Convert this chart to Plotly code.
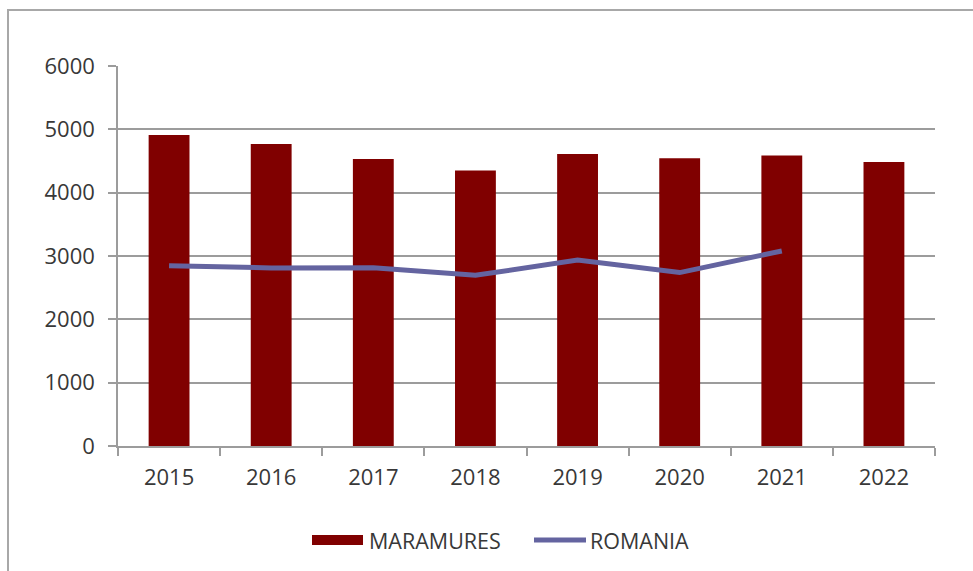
import plotly.graph_objects as go

# Yearly values for the county and the national series
years = ["2015", "2016", "2017", "2018", "2019", "2020", "2021", "2022"]
maramures = [4910, 4770, 4530, 4350, 4610, 4545, 4585, 4485]
romania = [2845, 2812, 2815, 2695, 2935, 2738, 3080, None]
series_names = ["MARAMURES", "ROMANIA"]
y_ticks = [0, 1000, 2000, 3000, 4000, 5000, 6000]

BAR_COLOR = "#800000"
LINE_COLOR = "#6464a0"
GRID = "#9c9c9c"
TEXT = "#383838"
FONT = "Open Sans"

W, H = 973, 571
L, R, T, B = 118, 38, 66, 125
PW, PH = W - L - R, H - T - B


def px_x(x):
    return (x - L) / PW


def px_y(y):
    return (H - B - y) / PH


fig = go.Figure()
fig.add_trace(go.Bar(x=years, y=maramures, name=series_names[0],
                     marker=dict(color=BAR_COLOR, line=dict(width=0)),
                     showlegend=False))
fig.add_trace(go.Scatter(x=years[:7], y=romania[:7], name=series_names[1],
                         mode="lines", line=dict(color=LINE_COLOR, width=5),
                         showlegend=False))

shapes = [
    # outer chart frame
    dict(type="rect", xref="paper", yref="paper",
         x0=px_x(8), x1=px_x(990), y0=px_y(600), y1=px_y(10),
         line=dict(color="#a8a8a8", width=2), layer="below"),
    # legend swatches
    dict(type="rect", xref="paper", yref="paper",
         x0=px_x(312), x1=px_x(363), y0=px_y(545), y1=px_y(535),
         fillcolor=BAR_COLOR, line=dict(width=0)),
    dict(type="line", xref="paper", yref="paper",
         x0=px_x(534), x1=px_x(586), y0=px_y(540), y1=px_y(540),
         line=dict(color=LINE_COLOR, width=5)),
]
annotations = [
    dict(text=series_names[0], xref="paper", yref="paper",
         x=px_x(367), y=px_y(540), xanchor="left", yanchor="middle",
         showarrow=False, font=dict(family=FONT, size=21.5, color=TEXT)),
    dict(text=series_names[1], xref="paper", yref="paper",
         x=px_x(588), y=px_y(540), xanchor="left", yanchor="middle",
         showarrow=False, font=dict(family=FONT, size=21.5, color=TEXT)),
]

fig.update_layout(
    width=W, height=H,
    margin=dict(l=L, r=R, t=T, b=B, pad=0),
    paper_bgcolor="white", plot_bgcolor="white",
    bargap=0.6,
    font=dict(family=FONT, size=22, color=TEXT),
    shapes=shapes, annotations=annotations,
    xaxis=dict(type="category", range=[-0.5, 7.5],
               showline=True, linecolor=GRID, linewidth=1.5,
               ticks="outside", tickson="boundaries", ticklen=8,
               tickcolor=GRID, tickwidth=1.5, showgrid=False,
               ticklabelstandoff=11,
               tickfont=dict(family=FONT, size=22, color=TEXT)),
    yaxis=dict(range=[0, 6000], tickvals=y_ticks,
               showline=True, linecolor=GRID, linewidth=1.5,
               ticks="outside", ticklen=8, tickcolor=GRID, tickwidth=1.5,
               showgrid=True, gridcolor=GRID, gridwidth=1.5,
               zeroline=False, ticklabelstandoff=9,
               tickfont=dict(family=FONT, size=22, color=TEXT)),
)

fig.write_html("out.html")
